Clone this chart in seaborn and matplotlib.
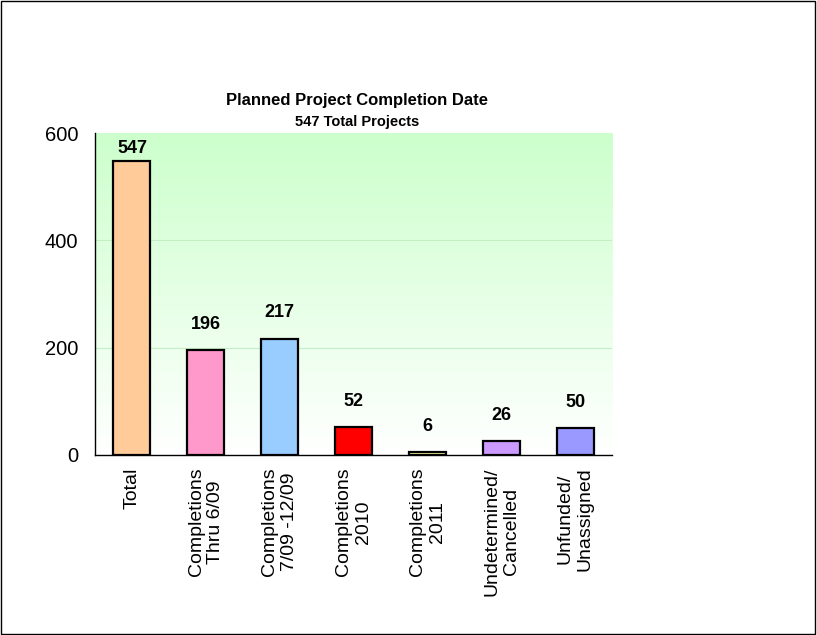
import numpy as np
import pandas as pd
import seaborn as sns
import matplotlib.pyplot as plt
from matplotlib.colors import LinearSegmentedColormap
from matplotlib.patches import Rectangle

categories = ["Total", "Completions\nThru 6/09", "Completions\n7/09 -12/09",
              "Completions\n2010", "Completions\n2011", "Undetermined/\nCancelled",
              "Unfunded/\nUnassigned"]
projects = [547, 196, 217, 52, 6, 26, 50]
bar_colors = ["#ffcc99", "#ff99cc", "#99ccff", "#ff0000", "#ffff99", "#cc99ff", "#9999ff"]
y_ticks = [0, 200, 400, 600]


def main():
    sns.set_theme(style="white")
    plt.rcParams['font.family'] = ['Liberation Sans', 'DejaVu Sans']
    plt.rcParams['text.color'] = 'black'
    plt.rcParams['xtick.color'] = 'black'
    plt.rcParams['ytick.color'] = 'black'

    df = pd.DataFrame({"category": categories, "projects": projects})

    fig = plt.figure(figsize=(8.17, 6.35), dpi=100)
    ax = fig.add_axes([0.1163, 0.2835, 0.633, 0.507])

    # green-to-white gradient background of the plot area
    grad = LinearSegmentedColormap.from_list("bg", ["#ffffff", "#ccffcc"])
    ax.imshow(np.linspace(0, 1, 256).reshape(-1, 1), cmap=grad, origin="lower",
              aspect="auto", extent=[-0.5, 6.5, 0, 600], zorder=0)

    sns.barplot(data=df, x="category", y="projects", hue="category",
                palette=bar_colors, saturation=1, legend=False, width=0.5,
                edgecolor="black", linewidth=1.6, ax=ax, zorder=3)

    ax.set_xlim(-0.5, 6.5)
    ax.set_ylim(0, 600)
    ax.set_yticks(y_ticks)
    ax.set_yticklabels([str(t) for t in y_ticks], fontsize=14.5)
    for t in y_ticks[1:-1]:
        ax.axhline(t, color="#c4efc4", lw=0.8, zorder=1)

    ax.set_xticks(range(len(categories)))
    ax.set_xticklabels(categories, rotation=90, fontsize=14, va="top", ha="center",
                       linespacing=1.2)
    ax.set_xticks(np.arange(-0.5, len(categories), 1), minor=True)
    ax.tick_params(axis="x", which="major", length=0, pad=9)
    ax.tick_params(axis="x", which="minor", length=6, width=1, color="black", direction="out")
    ax.tick_params(axis="y", length=6, width=1, color="black", direction="out", pad=6)
    ax.set_xlabel("")
    ax.set_ylabel("")

    for side in ["top", "right"]:
        ax.spines[side].set_visible(False)
    for side in ["left", "bottom"]:
        ax.spines[side].set_color("black")
        ax.spines[side].set_linewidth(1)

    # value labels above bars (clamped near the top of the plot area)
    for i, v in enumerate(projects):
        ax.text(i, min(v + 48, 572), str(v), ha="center", va="center",
                fontsize=13, fontweight="bold", color="black", zorder=4)

    fig.text(0.437, 0.842, "Planned Project Completion Date", ha="center", va="center",
             fontsize=12, fontweight="bold", color="black")
    fig.text(0.437, 0.808, "547 Total Projects", ha="center", va="center",
             fontsize=10.5, fontweight="bold", color="black")

    # outer chart border
    fig.patches.append(Rectangle((0.001, 0.001), 0.997, 0.997, transform=fig.transFigure,
                                 fill=False, edgecolor="black", linewidth=1))

    fig.savefig("out.png", dpi=100)


if __name__ == "__main__":
    main()
